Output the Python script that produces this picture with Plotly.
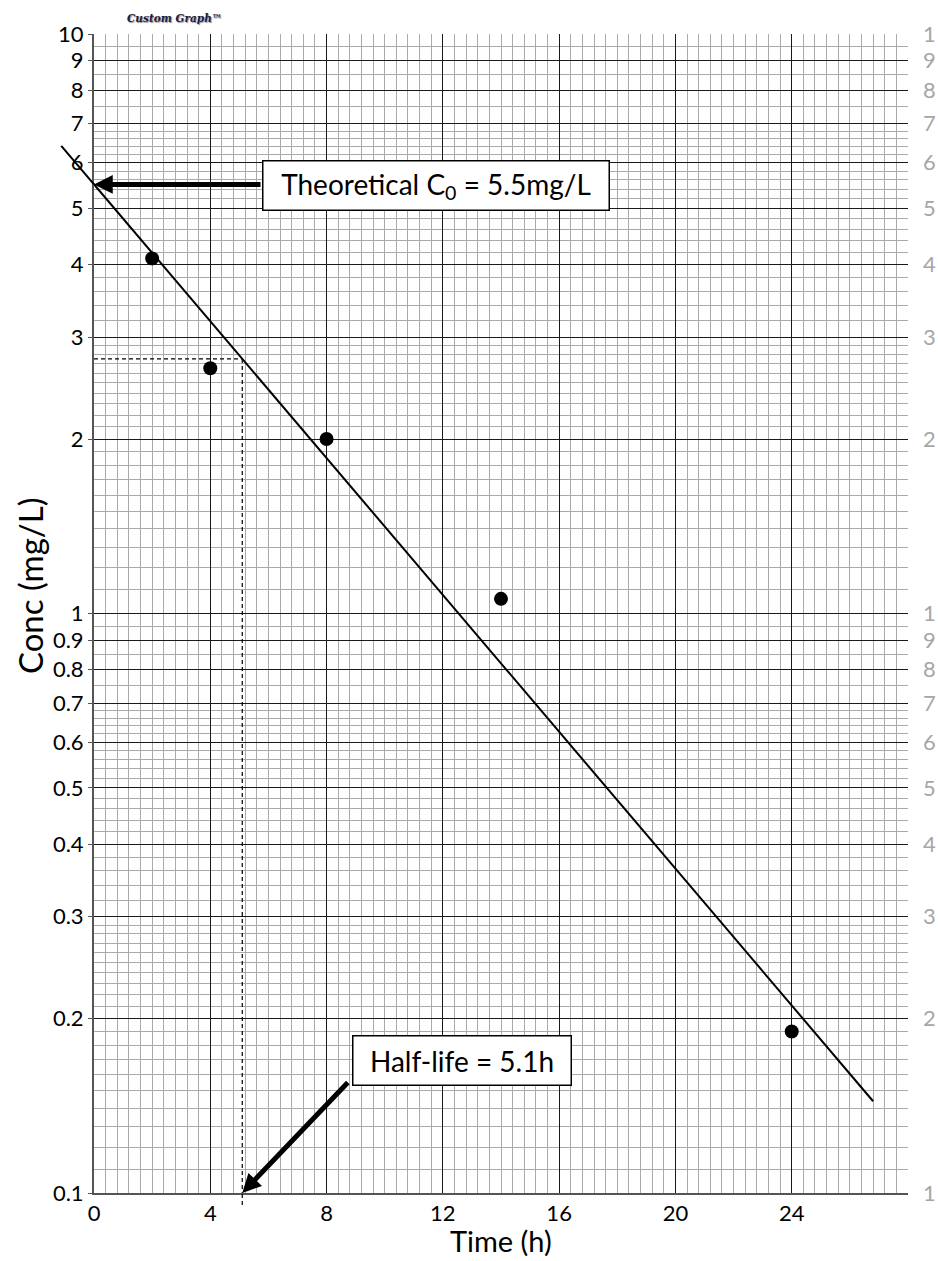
import numpy as np
import plotly.graph_objects as go

# ---- data ----
time_h = [2, 4, 8, 14, 24]
conc_mg_l = [4.1, 2.65, 2.0, 1.06, 0.19]
fit_time = [-1.17, 26.8]
fit_conc = [6.45, 0.144]
c0_value = 5.5
half_life_h = 5.1
half_conc = 2.75
y_major = [0.1, 0.2, 0.3, 0.4, 0.5, 0.6, 0.7, 0.8, 0.9, 1, 2, 3, 4, 5, 6, 7, 8, 9, 10]
y_labels = ['0.1', '0.2', '0.3', '0.4', '0.5', '0.6', '0.7', '0.8', '0.9',
            '1', '2', '3', '4', '5', '6', '7', '8', '9', '10']
right_labels = ['1', '2', '3', '4', '5', '6', '7', '8', '9',
                '1', '2', '3', '4', '5', '6', '7', '8', '9', '1']
x_ticks = [0, 4, 8, 12, 16, 20, 24, 28]
x_labels = ['0', '4', '8', '12', '16', '20', '24', '']

# ---- graph-paper minor grid ----
y_minor = []
for dec in [0.1, 1.0]:
    for a, b, s in [(1, 2, 0.1), (2, 3, 0.1), (3, 7, 0.2), (7, 10, 0.5)]:
        n = int(round((b - a) / s))
        for i in range(1, n):
            v = a + i * s
            if abs(v - round(v)) > 1e-6:
                y_minor.append(round(v * dec, 4))
x_minor = [round(0.4 * i, 2) for i in range(1, 70) if i % 10 != 0]

FONT = "Lato"
fig = go.Figure()

fig.add_trace(go.Scatter(x=fit_time, y=fit_conc, mode='lines',
                         line=dict(color='black', width=2), showlegend=False, hoverinfo='skip'))
fig.add_trace(go.Scatter(x=[0, half_life_h], y=[half_conc, half_conc], mode='lines',
                         line=dict(color='black', width=1.2, dash='4px,3px'), showlegend=False))
fig.add_trace(go.Scatter(x=[half_life_h, half_life_h], y=[half_conc, 0.1], mode='lines',
                         line=dict(color='black', width=1.2, dash='4px,3px'), showlegend=False))
fig.add_trace(go.Scatter(x=time_h, y=conc_mg_l, mode='markers',
                         marker=dict(color='black', size=14), showlegend=False))
fig.add_trace(go.Scatter(x=[1], y=[1], yaxis='y2', mode='markers',
                         marker=dict(opacity=0), showlegend=False, hoverinfo='skip'))

# dashed drop-line continuing just below the time axis
fig.add_shape(type='line', xref='x', yref='paper', x0=half_life_h, x1=half_life_h,
              y0=-0.0104, y1=0, line=dict(color='black', width=1.2, dash='4px,3px'))

annotations = [
    # fit line part left of the concentration axis (not clipped)
    dict(x=0, y=np.log10(c0_value), xref='x', yref='y',
         ax=fit_time[0], ay=np.log10(fit_conc[0]), axref='x', ayref='y', text='',
         showarrow=True, arrowhead=0, arrowwidth=2, arrowcolor='black', standoff=0, startstandoff=0),
    # C0 arrow
    dict(x=0, y=np.log10(c0_value), xref='x', yref='y', ax=168, ay=0, text='',
         showarrow=True, arrowhead=2, arrowsize=0.75, arrowwidth=5, arrowcolor='black', standoff=0),
    dict(x=5.78, y=0.7386, xref='x', yref='y', xanchor='left', yanchor='middle',
         text='Theoretical C<sub>0</sub> = 5.5mg/L', showarrow=False,
         width=345, height=48, borderpad=0, bordercolor='black', borderwidth=1.5,
         bgcolor='white', font=dict(family=FONT, size=28, color='black')),
    # half-life arrow
    dict(x=half_life_h, y=-1, xref='x', yref='y', ax=107, ay=-112, text='',
         showarrow=True, arrowhead=2, arrowsize=0.75, arrowwidth=5, arrowcolor='black', standoff=0),
    dict(x=8.875, y=-0.7705, xref='x', yref='y', xanchor='left', yanchor='middle',
         text='Half-life = 5.1h', showarrow=False,
         width=217, height=48, borderpad=0, bordercolor='black', borderwidth=1.5,
         bgcolor='white', font=dict(family=FONT, size=28, color='black')),
    # titles
    dict(x=-0.0786, y=0.5237, xref='paper', yref='paper', text='Conc (mg/L)', textangle=-90,
         xanchor='center', yanchor='middle',
         showarrow=False, font=dict(family=FONT, size=33, color='black')),
    dict(x=0.5, y=-0.0406, xref='paper', yref='paper', text='Time (h)',
         xanchor='center', yanchor='middle',
         showarrow=False, font=dict(family=FONT, size=29, color='black')),
    dict(x=0.099, y=1.0138, xref='paper', yref='paper', text='<b><i>Custom Graph™</i></b>',
         xanchor='center', yanchor='middle',
         showarrow=False, font=dict(family='DejaVu Serif', size=10.5, color='#1c1c3c',
                                    shadow='1px 1px 1px #9090a0')),
]

fig.update_layout(
    width=938, height=1261,
    margin=dict(l=94, r=30, t=34, b=68, autoexpand=False),
    paper_bgcolor='white', plot_bgcolor='white',
    font=dict(family=FONT, size=22, color='black'),
    annotations=annotations,
    xaxis=dict(range=[0, 28], tickmode='array', tickvals=x_ticks, ticktext=x_labels,
               automargin=False,
               showgrid=True, gridcolor='#1a1a1a', gridwidth=1.2, zeroline=False,
               minor=dict(tickvals=x_minor, showgrid=True, gridcolor='#aaaaaa', gridwidth=1.4),
               showline=True, linecolor='#555555', linewidth=2, ticks='',
               tickfont=dict(family=FONT, size=22, color='black')),
    yaxis=dict(type='log', range=[-1, 1], tickmode='array', tickvals=y_major, ticktext=y_labels,
               automargin=False,
               showgrid=True, gridcolor='#1a1a1a', gridwidth=1.2,
               minor=dict(tickvals=y_minor, showgrid=True, gridcolor='#aaaaaa', gridwidth=1.4),
               showline=True, linecolor='#555555', linewidth=2,
               ticks='outside', ticklen=4, tickcolor='#555555',
               tickfont=dict(family=FONT, size=22, color='black')),
    yaxis2=dict(type='log', range=[-1, 1], overlaying='y', side='right', tickmode='array',
                automargin=False,
                tickvals=y_major, ticktext=right_labels, showgrid=False, showline=False,
                ticks='', ticklabelstandoff=14,
                tickfont=dict(family=FONT, size=22, color='#a6a6a6')),
)

fig.write_html("out.html", config={'displayModeBar': False},
               post_script="document.body.style.margin='0';")
